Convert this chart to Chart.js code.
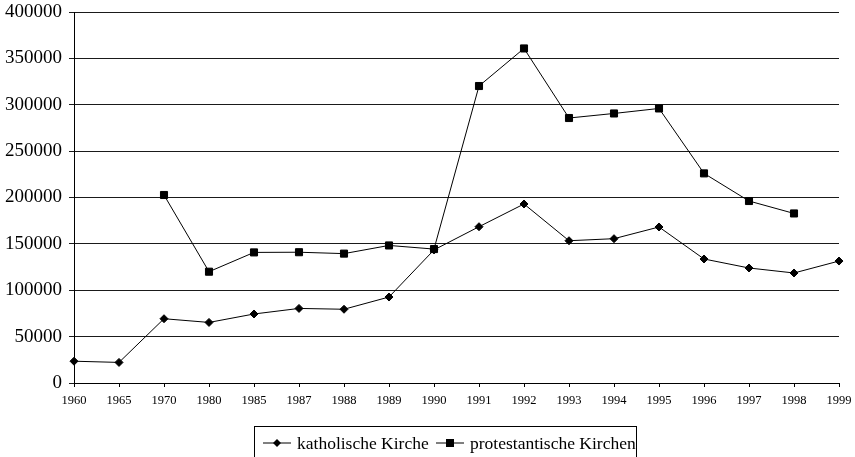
<!DOCTYPE html>
<html>
<head>
<meta charset="utf-8">
<script src="https://cdn.jsdelivr.net/npm/chart.js@4"></script>
<style>
  html, body { margin: 0; padding: 0; background: #fff; overflow: hidden; }
  #wrap { position: relative; width: 855px; height: 457px; }
  #legend {
    position: absolute; left: 254px; top: 426px; width: 383px; height: 40px;
    border: 1px solid #000; box-sizing: border-box;
    font-family: 'Liberation Serif', serif; font-size: 17.5px; color: #000;
  }
  .item { position: absolute; top: 5px; white-space: nowrap; line-height: 22px; }
  .item svg { vertical-align: middle; margin-right: 6px; margin-top: -3px; }
</style>
</head>
<body>
<div id="wrap">
  <canvas id="chart" width="855" height="457"></canvas>
  <div id="legend"></div>
</div>
<script>
// Jahre (Kategorien)
const years = ['1960', '1965', '1970', '1980', '1985', '1987', '1988', '1989', '1990',
  '1991', '1992', '1993', '1994', '1995', '1996', '1997', '1998', '1999'];

// Werte
const katholisch = [23500, 22200, 69300, 65300, 74400, 80400, 79500, 92700, 143500,
  168500, 193000, 153400, 155600, 168200, 133700, 124000, 118600, 131500];
const protestantisch = [null, null, 202700, 120000, 140800, 141000, 139500, 148300, 144400,
  320200, 360700, 285700, 290600, 296000, 226000, 196200, 182800, null];

const yTicks = { min: 0, max: 400000, step: 50000 };

const seriesNames = ['katholische Kirche', 'protestantische Kirchen'];

const SERIF = "'Liberation Serif', 'Times New Roman', serif";
const BLACK = '#000';

new Chart(document.getElementById('chart'), {
  type: 'line',
  data: {
    labels: years,
    datasets: [
      {
        label: seriesNames[0],
        data: katholisch,
        borderColor: BLACK,
        backgroundColor: BLACK,
        borderWidth: 1,
        pointStyle: 'rectRot',
        pointRadius: 4,
        pointBorderWidth: 1,
        tension: 0,
      },
      {
        label: seriesNames[1],
        data: protestantisch,
        borderColor: BLACK,
        backgroundColor: BLACK,
        borderWidth: 1,
        pointStyle: 'rect',
        pointRadius: 5,
        pointBorderWidth: 1,
        tension: 0,
        spanGaps: false,
      },
    ],
  },
  options: {
    responsive: false,
    animation: false,
    layout: { padding: { top: 12, right: 16, left: 0, bottom: 0 } },
    plugins: { legend: { display: false }, tooltip: { enabled: false } },
    scales: {
      x: {
        offset: false,
        grid: { drawOnChartArea: false, tickLength: 4, color: BLACK },
        border: { display: true, color: BLACK, width: 1 },
        ticks: {
          autoSkip: false, maxRotation: 0, padding: 6,
          color: BLACK, font: { family: SERIF, size: 12.5 },
        },
        afterFit: s => { s.height = 74; s.paddingLeft = 0; s.paddingRight = 0; },
      },
      y: {
        min: yTicks.min,
        max: yTicks.max,
        grid: { color: '#1a1a1a', lineWidth: 1, tickLength: 5 },
        border: { display: true, color: BLACK, width: 1 },
        ticks: {
          stepSize: yTicks.step, padding: 7,
          color: BLACK, font: { family: SERIF, size: 19 },
          callback: v => String(v),
        },
        afterFit: s => { s.width = 74; s.paddingTop = 0; s.paddingBottom = 0; },
      },
    },
  },
});

// Legende mit Linie + Marker wie in der Vorlage
const legend = document.getElementById('legend');
const markers = [
  '<polygon points="14,1 18,5 14,9 10,5" fill="#000"/>',
  '<rect x="10" y="1" width="8" height="8" fill="#000"/>',
];
const lefts = [8, 181];
seriesNames.forEach((name, i) => {
  const el = document.createElement('div');
  el.className = 'item';
  el.style.left = lefts[i] + 'px';
  el.innerHTML = '<svg width="28" height="10"><line x1="0" y1="5" x2="28" y2="5" stroke="#000" stroke-width="1"/>' +
    markers[i] + '</svg>' + name;
  legend.appendChild(el);
});
</script>
</body>
</html>
